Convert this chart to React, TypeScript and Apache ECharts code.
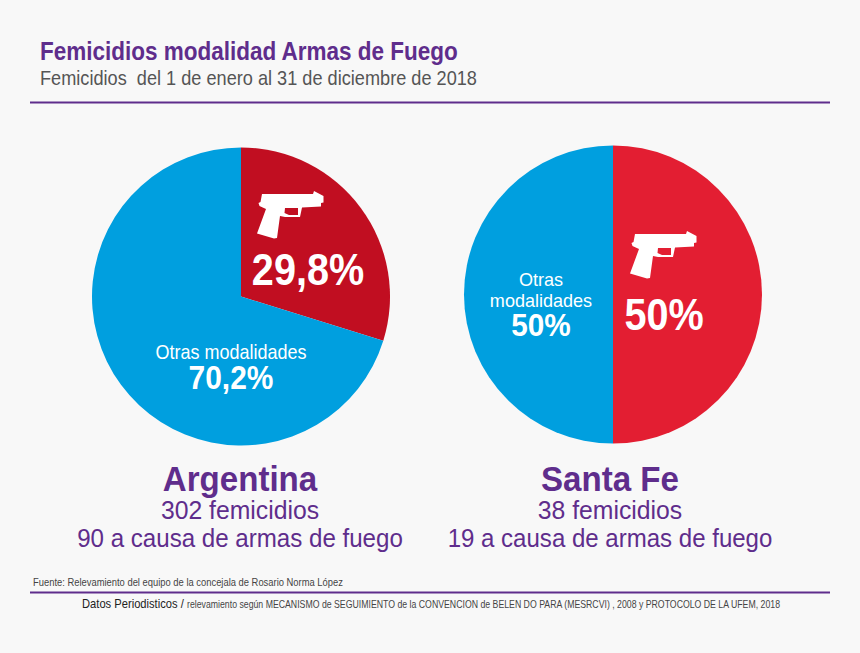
import React, { useEffect, useRef } from "react";
import * as echarts from "echarts";

const argentinaValues = [29.8, 70.2];
const santaFeValues = [50, 50];
const argentinaNames = ["Armas de fuego", "Otras modalidades"];
const santaFeNames = ["Armas de fuego", "Otras modalidades"];

const FONT = '"Liberation Sans", Arial, sans-serif';
const PURPLE = "#5f2d8c";

const gunPath =
  "M32 24 L83 24 L84 21 L93.5 26 L93.5 32.5 L91 33 L91 36.5 L72 37.5 L70 47 L55 47 L50 46 L47 68 L44 68.5 L27 63.5 L36 39 L29.5 36 L28.5 33 L30.5 32 Z " +
  "M55 38 L54.5 43 L59 45 L68 45 L68 38 Z";
echarts.graphic.registerShape("gunIcon", echarts.graphic.extendPath(gunPath, {}) as any);

function text(x: number, y: number, t: string, size: number, fill: string, scaleX: number, weight = "normal", align = "center") {
  return {
    type: "text", x, y, scaleX, z: 10,
    style: { text: t, fontFamily: FONT, fontSize: size, fontWeight: weight, fill, align, verticalAlign: "middle" },
  };
}

export default function App() {
  const ref = useRef<HTMLDivElement>(null);
  useEffect(() => {
    document.body.style.margin = "0";
    const chart = echarts.init(ref.current!, null, { renderer: "svg" });
    const pieBase = { type: "pie", radius: 149, startAngle: 90, clockwise: true, label: { show: false }, labelLine: { show: false }, silent: true };
    chart.setOption({
      animation: false,
      backgroundColor: "#f8f8f8",
      series: [
        {
          ...pieBase, center: [241, 296.5],
          data: argentinaValues.map((value, i) => ({ value, name: argentinaNames[i], itemStyle: { color: ["#c10e21", "#009fdf"][i] } })),
        },
        {
          ...pieBase, center: [613, 294.5],
          data: santaFeValues.map((value, i) => ({ value, name: santaFeNames[i], itemStyle: { color: ["#e31e32", "#009fdf"][i] } })),
        },
      ],
      graphic: [
        text(40, 51, "Femicidios modalidad Armas de Fuego", 25, PURPLE, 0.9, "bold", "left"),
        text(40, 78, "Femicidios  del 1 de enero al 31 de diciembre de 2018", 20, "#555555", 0.908, "normal", "left"),
        { type: "line", z: 10, shape: { x1: 30, y1: 102.5, x2: 830, y2: 102.5 }, style: { stroke: PURPLE, lineWidth: 2 } },
        text(308, 270, "29,8%", 44, "#ffffff", 0.9, "bold"),
        text(231, 352, "Otras modalidades", 20, "#ffffff", 0.9),
        text(231, 377, "70,2%", 34, "#ffffff", 0.88, "bold"),
        text(541, 279, "Otras", 19, "#ffffff", 0.95),
        text(541, 300, "modalidades", 19, "#ffffff", 0.95),
        text(541, 325, "50%", 32, "#ffffff", 0.93, "bold"),
        text(664, 315, "50%", 44, "#ffffff", 0.9, "bold"),
        text(240, 479, "Argentina", 36, PURPLE, 0.92, "bold"),
        text(240, 510, "302 femicidios", 25, PURPLE, 0.99),
        text(240, 538, "90 a causa de armas de fuego", 25, PURPLE, 0.965),
        text(610, 479, "Santa Fe", 36, PURPLE, 0.92, "bold"),
        text(610, 510, "38 femicidios", 25, PURPLE, 0.99),
        text(610, 538, "19 a causa de armas de fuego", 25, PURPLE, 0.962),
        text(33, 582, "Fuente: Relevamiento del equipo de la concejala de Rosario Norma López", 11, "#444444", 0.854, "normal", "left"),
        { type: "line", z: 10, shape: { x1: 30, y1: 592.5, x2: 830, y2: 592.5 }, style: { stroke: PURPLE, lineWidth: 2 } },
        text(82, 604, "Datos Periodisticos /", 13, "#222222", 0.86, "normal", "left"),
        text(187, 604, "relevamiento según MECANISMO de SEGUIMIENTO de la CONVENCION de BELEN DO PARA (MESRCVI) , 2008 y PROTOCOLO DE LA UFEM, 2018", 11, "#444444", 0.795, "normal", "left"),
        { type: "gunIcon", z: 10, x: 230, y: 170, style: { fill: "#ffffff" } },
        { type: "gunIcon", z: 10, x: 603, y: 210, style: { fill: "#ffffff" } },
      ],
    });
    return () => chart.dispose();
  }, []);
  return <div ref={ref} style={{ width: 860, height: 653 }} />;
}
